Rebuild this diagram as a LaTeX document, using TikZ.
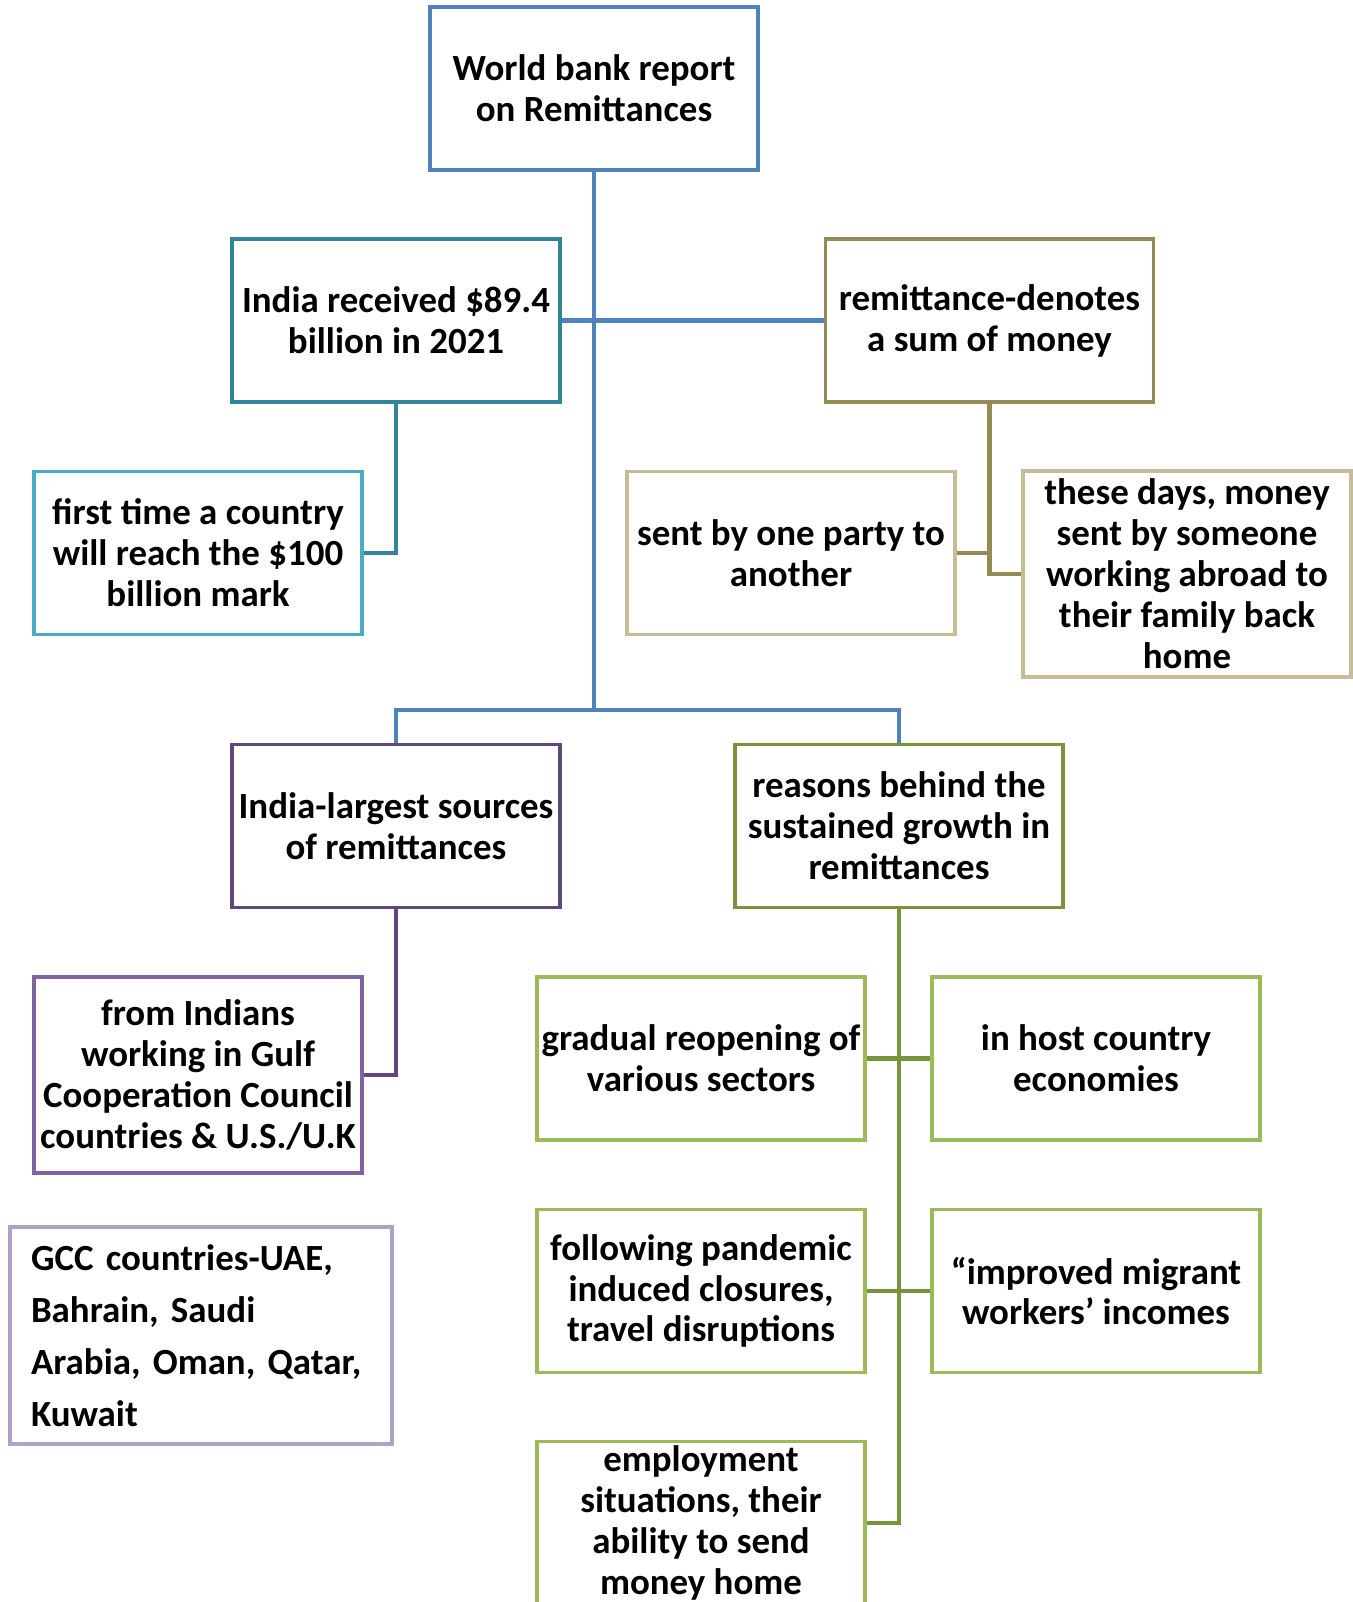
\documentclass[tikz,border=0pt]{standalone}
\usepackage{fontspec}
\setmainfont{Carlito}
\usetikzlibrary{positioning}

\definecolor{rootblue}{HTML}{4F81BD}
\definecolor{tealdark}{HTML}{31849B}
\definecolor{teallight}{HTML}{4BACC6}
\definecolor{olivedark}{HTML}{948A54}
\definecolor{olivelight}{HTML}{C4BD97}
\definecolor{purpledark}{HTML}{5F497A}
\definecolor{purplemid}{HTML}{8064A2}
\definecolor{purplelight}{HTML}{B2A1C7}
\definecolor{greendark}{HTML}{77933C}
\definecolor{greenlight}{HTML}{9BBB59}

\tikzset{
  box/.style={draw=#1, line width=2.2pt, fill=white, text=black,
    minimum width=6.56cm, minimum height=3.26cm, align=center, inner sep=2pt,
    font=\bfseries\fontsize{21}{23.3}\selectfont},
  link/.style={line width=2.3pt}
}

\begin{document}
\begin{tikzpicture}[x=0.02cm, y=-0.02cm]
  \useasboundingbox (0,0) rectangle (1352,1602);

  % boxes
  \node[box=rootblue] (report) at (594,88.5) {World bank report\\on Remittances};
  \node[box=tealdark] (received) at (396,320.5) {India received \$89.4\\billion in 2021};
  \node[box=olivedark] (denotes) at (989.5,320.5) {remittance-denotes\\a sum of money};
  \node[box=teallight] (firsttime) at (198,553) {first time a country\\will reach the \$100\\billion mark};
  \node[box=olivelight] (sentby) at (791,553) {sent by one party to\\another};
  \node[box=olivelight, minimum height=4.12cm] (thesedays) at (1187,574) {these days, money\\sent by someone\\working abroad to\\their family back\\home};
  \node[box=purpledark] (largest) at (396,826) {India-largest sources\\of remittances};
  \node[box=greendark] (reasons) at (899,826) {reasons behind the\\sustained growth in\\remittances};
  \node[box=purplemid, minimum height=3.92cm] (gulf) at (198,1075) {from Indians\\working in Gulf\\Cooperation Council\\countries \& U.S./U.K};
  \node[box=purplelight, minimum width=7.64cm, minimum height=4.34cm,
    text width=6.8cm, align=left, font=\bfseries\fontsize{21}{29.6}\selectfont\frenchspacing] (gcc) at (201,1335.5)
    {GCC countries-UAE,\\Bahrain, Saudi\\Arabia, Oman, Qatar,\\Kuwait};
  \node[box=greenlight] (reopening) at (701,1058.5) {gradual reopening of\\various sectors};
  \node[box=greenlight] (host) at (1096,1058.5) {in host country\\economies};
  \node[box=greenlight] (pandemic) at (701,1291) {following pandemic\\induced closures,\\travel disruptions};
  \node[box=greenlight] (improved) at (1096,1291) {``improved migrant\\workers' incomes};
  \node[box=greenlight] (employment) at (701,1523) {employment\\situations, their\\ability to send\\money home};

  % connectors
  \coordinate (split) at (report.south |- 0,710);
  \draw[link, rootblue] (report.south) -- (split);
  \draw[link, rootblue] (received.east) -- (denotes.west);
  \draw[link, rootblue] (largest.north) |- (split) -| (reasons.north);
  \draw[link, tealdark] (received.south) |- (firsttime.east);
  \draw[link, olivedark] (denotes.south) |- (sentby.east);
  \draw[link, olivedark] (denotes.south) |- (thesedays.west);
  \draw[link, purpledark] (largest.south) |- (gulf.east);
  \draw[link, greendark] (reasons.south) |- (employment.east);
  \draw[link, greendark] (reopening.east) -- (host.west);
  \draw[link, greendark] (pandemic.east) -- (improved.west);
\end{tikzpicture}
\end{document}
